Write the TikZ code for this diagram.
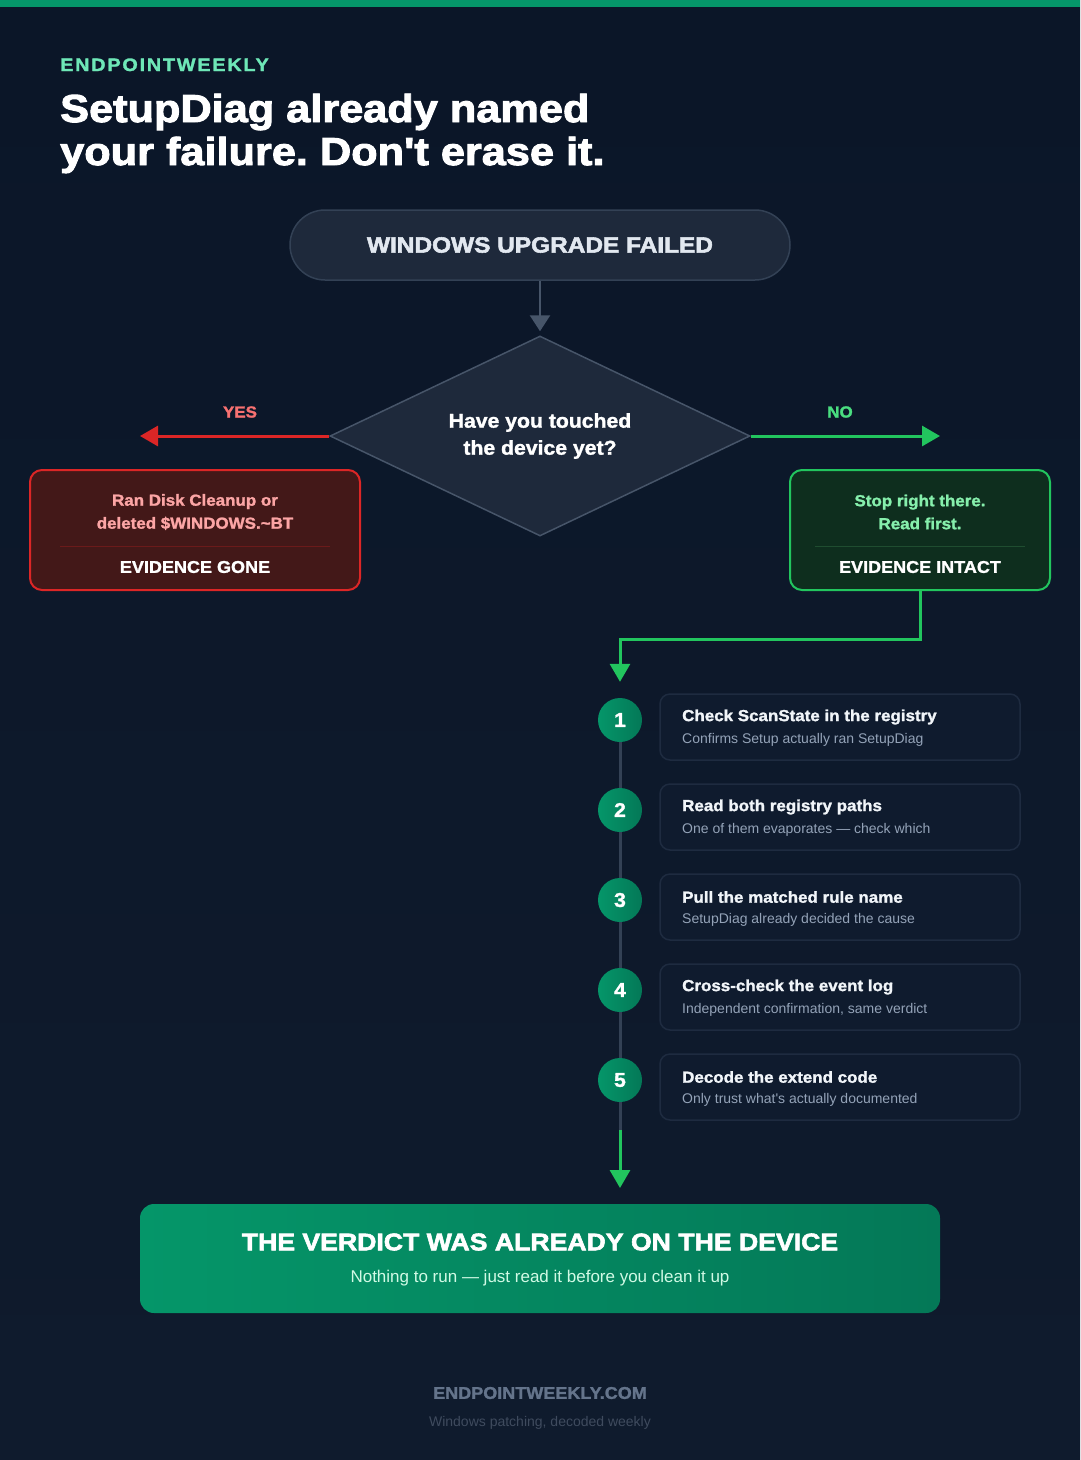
\documentclass[tikz,border=0pt]{standalone}
\usepackage{fontspec}
\setmainfont{Liberation Sans}[Ligatures=TeXOff, BoldFeatures={FakeBold=1.5, FakeStretch=1.06}]
\newfontfamily\heavy{Liberation Sans}[Ligatures=TeXOff, BoldFeatures={FakeBold=2.5, FakeStretch=1.11}]
\newfontfamily\spaced{Liberation Sans}[LetterSpace=10, BoldFeatures={FakeBold=1.5, FakeStretch=1.10}]
\usetikzlibrary{shapes.geometric,arrows.meta}
\frenchspacing
\definecolor{bg}{HTML}{0B1628}
\definecolor{bgb}{HTML}{0F1B2D}
\definecolor{accent}{HTML}{059669}
\definecolor{accentd}{HTML}{047857}
\definecolor{mint}{HTML}{6EE7B7}
\definecolor{slatebox}{HTML}{1E293B}
\definecolor{slateedge}{HTML}{334155}
\definecolor{arrowgray}{HTML}{475569}
\definecolor{titletext}{HTML}{E2E8F0}
\definecolor{redline}{HTML}{DC2626}
\definecolor{redlabel}{HTML}{F87171}
\definecolor{redfill}{HTML}{431818}
\definecolor{redtext}{HTML}{FCA5A5}
\definecolor{reddiv}{HTML}{6B1A1A}
\definecolor{greenline}{HTML}{22C55E}
\definecolor{greenlabel}{HTML}{4ADE80}
\definecolor{greenfill}{HTML}{0E2E1E}
\definecolor{greentext}{HTML}{86EFAC}
\definecolor{greendiv}{HTML}{1F4D30}
\definecolor{stepfill}{HTML}{0F1B2E}
\definecolor{stepedge}{HTML}{1E2B40}
\definecolor{steptitle}{HTML}{F1F5F9}
\definecolor{subtext}{HTML}{94A3B8}
\definecolor{verdictsub}{HTML}{D1FAE5}
\definecolor{foot}{HTML}{64748B}
\definecolor{footsub}{HTML}{3F4B5E}
\newcommand{\fs}[1]{\fontsize{#1}{#1}\selectfont}
\tikzset{
  pill/.style={rounded corners=35pt, minimum width=500pt, minimum height=70pt,
    fill=slatebox, draw=slateedge, line width=1.5pt, text=titletext,
    font=\heavy\fs{22}\bfseries},
  decision/.style={diamond, shape aspect=2.1, minimum width=420pt, minimum height=200pt, inner sep=0pt,
    fill=slatebox, draw=arrowgray, line width=1.5pt, text=white, align=center,
    font=\fontsize{20}{27}\selectfont\bfseries},
  outcome/.style={rounded corners=12pt, minimum height=120pt, line width=2pt},
  boxtext/.style={align=center, font=\fontsize{16}{23}\selectfont\bfseries},
  boxhead/.style={text=white, font=\fs{17}\bfseries},
  branchlabel/.style={font=\fs{16}\bfseries},
  grayarrow/.style={draw=arrowgray, line width=2.5pt, -{Triangle[length=16pt,width=20pt]}},
  redarrow/.style={draw=redline, line width=3pt, -{Triangle[length=18pt,width=20pt]}},
  greenarrow/.style={draw=greenline, line width=3pt, -{Triangle[length=18pt,width=20pt]}},
  stepcircle/.style={circle, minimum size=44pt, inner sep=0pt, left color=accent,
    right color=accentd, text=white, font=\fs{20}\bfseries},
  stepbox/.style={rounded corners=10pt, minimum width=360pt, minimum height=66pt,
    fill=stepfill, draw=stepedge, line width=1.5pt},
  steptitle/.style={anchor=west, text=steptitle, font=\fs{16}\bfseries, inner sep=0pt},
  stepsub/.style={anchor=west, text=subtext, font=\fs{14}, inner sep=0pt},
}
\begin{document}
\begin{tikzpicture}[x=1pt,y=-1pt]
\useasboundingbox (0,0) rectangle (1080,1460);
\fill[top color=bg, bottom color=bgb] (0,0) rectangle (1080,1460);
\fill[accent] (0,0) rectangle (1080,7);

% header
\node[anchor=base west, inner sep=0pt, text=mint, font=\spaced\fs{18}\bfseries] (brand) at (60,71) {ENDPOINTWEEKLY};
\node[anchor=base west, inner sep=0pt, text=white, font=\heavy\fs{39}\bfseries] (title1) at (60,122) {SetupDiag already named};
\node[anchor=base west, inner sep=0pt, text=white, font=\heavy\fs{39}\bfseries] (title2) at (60,165) {your failure. Don't erase it.};

% start and decision
\node[pill] (start) at (540,245) {WINDOWS UPGRADE FAILED};
\node[decision] (dec) at (540,436) {Have you touched\\the device yet?};
\draw[grayarrow] (start.south) -- ([yshift=4pt]dec.north);

\coordinate (yesend) at (140,436);
\coordinate (noend) at (940,436);
\draw[redarrow] (dec.west) -- (yesend);
\draw[greenarrow] (dec.east) -- (noend);
\node[branchlabel, text=redlabel] (yes) at (240,412) {YES};
\node[branchlabel, text=greenlabel] (no) at (840,412) {NO};

% outcome boxes
\node[outcome, minimum width=330pt, draw=redline, fill=redfill] (gone) at (195,530) {};
\node[boxtext, text=redtext] (gonetext) at (195,512) {Ran Disk Cleanup or\\deleted \$WINDOWS.\textasciitilde BT};
\draw[reddiv, line width=1pt] (60,546) -- (330,546);
\node[boxhead] (gonehead) at (195,567) {EVIDENCE GONE};

\node[outcome, minimum width=260pt, draw=greenline, fill=greenfill] (intact) at (920,530) {};
\node[boxtext, text=greentext] (intacttext) at (920,512) {Stop right there.\\Read first.};
\draw[greendiv, line width=1pt] (815,546) -- (1025,546);
\node[boxhead] (intacthead) at (920,567) {EVIDENCE INTACT};

% timeline
\coordinate (bend) at (620,639);
\coordinate (tlend) at (620,1130);
\coordinate (vtip) at (620,1188);
\draw[slateedge, line width=3pt] (620,720) -- (tlend);
\foreach \n/\y/\t/\s in {
  1/720/{Check ScanState in the registry}/{Confirms Setup actually ran SetupDiag},
  2/810/{Read both registry paths}/{One of them evaporates — check which},
  3/900/{Pull the matched rule name}/{SetupDiag already decided the cause},
  4/990/{Cross-check the event log}/{Independent confirmation, same verdict},
  5/1080/{Decode the extend code}/{Only trust what's actually documented}}{
  \node[stepcircle] (circ\n) at (620,\y) {\n};
  \node[stepbox] (step\n) at (840,\y+7) {};
  \node[steptitle] (steptitle\n) at (682,\y-3) {\t};
  \node[stepsub] (stepsub\n) at (682,\y+20) {\s};
}
\draw[greenarrow] (intact.south) |- (bend) -- ([yshift=16pt]circ1.north);

% verdict
\node[rounded corners=14pt, minimum width=800pt, minimum height=109pt,
  left color=accent, right color=accentd] (verdict) at (540,1258.5) {};
\draw[greenarrow] (tlend) -- (vtip);
\node[text=white, font=\heavy\fs{24}\bfseries] (verdicttitle) at (540,1242) {THE VERDICT WAS ALREADY ON THE DEVICE};
\node[text=verdictsub, font=\fs{17}] (verdictsub) at (540,1278) {Nothing to run — just read it before you clean it up};

% footer
\node[text=foot, font=\fs{17}\bfseries] (footbrand) at (540,1393) {ENDPOINTWEEKLY.COM};
\node[text=footsub, font=\fs{14}] (footsub) at (540,1423) {Windows patching, decoded weekly};
\end{tikzpicture}
\end{document}
